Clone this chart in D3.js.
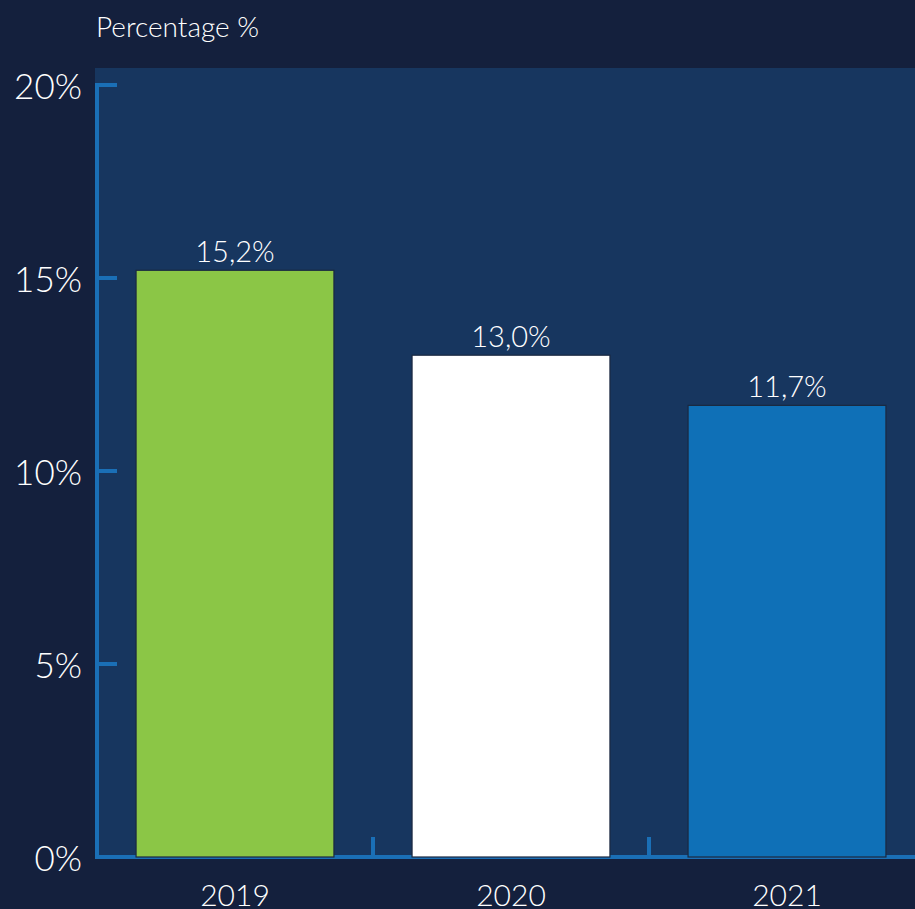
<!DOCTYPE html>
<html>
<head>
<meta charset="utf-8">
<script src="https://cdn.jsdelivr.net/npm/d3@7"></script>
<style>
	html, body { margin: 0; padding: 0; background: #14203d; }
	svg { display: block; font-family: Lato, 'Open Sans', sans-serif; font-weight: 300; }
</style>
</head>
<body>
<div id="root"></div>
<script>
const years		= ['2019', '2020', '2021'];
const values	= [15.2, 13.0, 11.7];
const colors	= ['#8bc646', '#ffffff', '#0f70b7'];
const y_ticks	= [0, 5, 10, 15, 20];
const y_title	= 'Percentage %';

const width		= 915;
const height	= 909;
const plot		= { left: 95, top: 68, right: 915, bottom: 858 };

const svg	= d3.select('#root').append('svg')
	.attr('width', width)
	.attr('height', height);

svg.append('rect')
	.attr('width', width).attr('height', height)
	.attr('fill', '#14203d');

// plot background
svg.append('rect')
	.attr('x', plot.left).attr('y', plot.top)
	.attr('width', plot.right - plot.left).attr('height', plot.bottom - plot.top)
	.attr('fill', '#17365f');

const x	= d3.scaleBand().domain(years).range([97, 925]);
const y	= d3.scaleLinear().domain([0, 20]).range([857, 85]);

const barW	= x.bandwidth() * 0.717;

// axes
const axisColor	= '#1a6fb6';

svg.append('line')
	.attr('x1', 97).attr('x2', 97)
	.attr('y1', y(20) - 2).attr('y2', y(0) + 2)
	.attr('stroke', axisColor).attr('stroke-width', 4);

svg.append('line')
	.attr('x1', 95).attr('x2', plot.right)
	.attr('y1', y(0)).attr('y2', y(0))
	.attr('stroke', axisColor).attr('stroke-width', 4);

svg.selectAll('.ytick')
	.data(y_ticks.filter((d) => d > 0)).enter().append('line')
	.attr('class', 'ytick')
	.attr('x1', 97).attr('x2', 117)
	.attr('y1', (d) => y(d)).attr('y2', (d) => y(d))
	.attr('stroke', axisColor).attr('stroke-width', 4);

svg.selectAll('.ylabel')
	.data(y_ticks).enter().append('text')
	.attr('class', 'ylabel')
	.attr('x', 82)
	.attr('y', (d) => y(d) + 14)
	.attr('text-anchor', 'end')
	.attr('fill', '#ffffff')
	.style('font-size', '35px')
	.text((d) => d + '%');

// separators between categories
svg.selectAll('.xsep')
	.data(years.slice(1)).enter().append('line')
	.attr('class', 'xsep')
	.attr('x1', (d) => x(d)).attr('x2', (d) => x(d))
	.attr('y1', y(0) - 20).attr('y2', y(0))
	.attr('stroke', axisColor).attr('stroke-width', 4);

svg.append('text')
	.attr('x', 96).attr('y', 37)
	.attr('fill', '#ffffff')
	.style('font-size', '28px')
	.text(y_title);

// bars
const bars	= svg.selectAll('.bar')
	.data(years).enter().append('g')
	.attr('class', 'bar');

bars.append('rect')
	.attr('x', (d) => x(d) + (x.bandwidth() - barW) / 2)
	.attr('y', (d, i) => y(values[i]))
	.attr('width', barW)
	.attr('height', (d, i) => y(0) - y(values[i]))
	.attr('fill', (d, i) => colors[i])
	.attr('stroke', '#1b2940').attr('stroke-width', 1.2);

bars.append('text')
	.attr('x', (d) => x(d) + x.bandwidth() / 2)
	.attr('y', (d, i) => y(values[i]) - 8)
	.attr('text-anchor', 'middle')
	.attr('fill', '#ffffff')
	.style('font-size', '29px')
	.text((d, i) => values[i].toFixed(1).replace('.', ',') + '%');

svg.selectAll('.xlabel')
	.data(years).enter().append('text')
	.attr('class', 'xlabel')
	.attr('x', (d) => x(d) + x.bandwidth() / 2)
	.attr('y', 906)
	.attr('text-anchor', 'middle')
	.attr('fill', '#ffffff')
	.style('font-size', '30px')
	.text((d) => d);
</script>
</body>
</html>
